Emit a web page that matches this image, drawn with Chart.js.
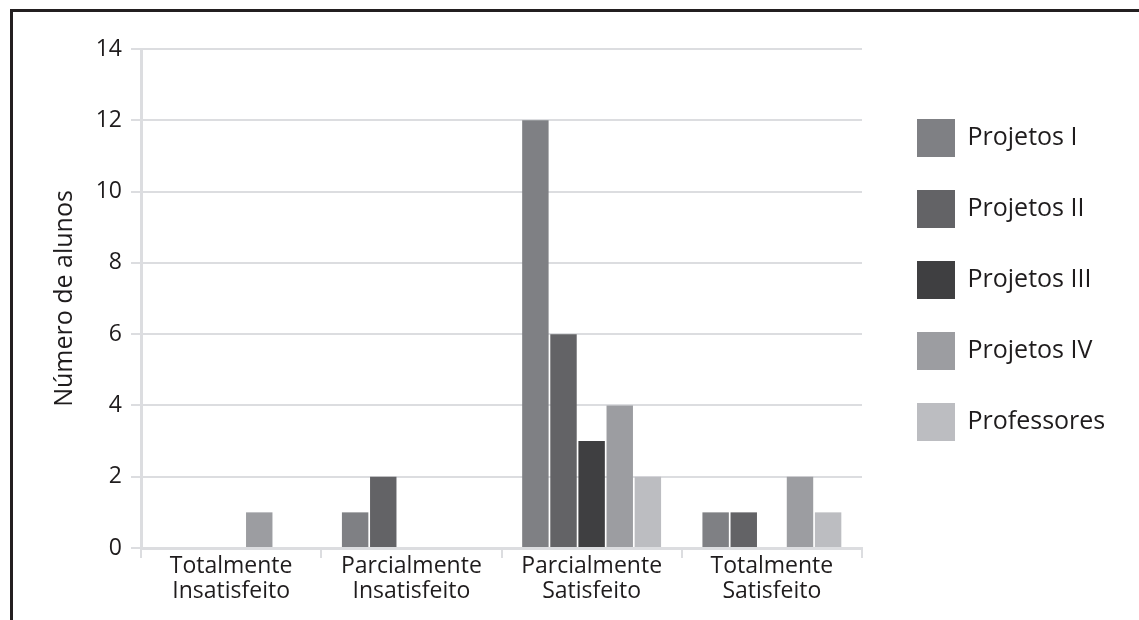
<!DOCTYPE html>
<html>
<head>
<meta charset="utf-8">
<script src="https://cdn.jsdelivr.net/npm/chart.js@4"></script>
<style>
  html, body { margin: 0; padding: 0; background: #fff; overflow: hidden; }
  #frame { position: absolute; left: 10px; top: 9px; width: 1200px; height: 700px;
           border-left: 3px solid #231f20; border-top: 3px solid #231f20; }
  #myChart { position: absolute; left: 0; top: 0; }
</style>
</head>
<body>
<div id="frame"></div>
<canvas id="myChart" width="1139" height="620"></canvas>
<script>
const categories = [
  ['Totalmente', 'Insatisfeito'],
  ['Parcialmente', 'Insatisfeito'],
  ['Parcialmente', 'Satisfeito'],
  ['Totalmente', 'Satisfeito']
];
const seriesNames = ['Projetos I', 'Projetos II', 'Projetos III', 'Projetos IV', 'Professores'];
const projetosI = [0, 1, 12, 1];
const projetosII = [0, 2, 6, 1];
const projetosIII = [0, 0, 3, 0];
const projetosIV = [1, 0, 4, 2];
const professores = [0, 0, 2, 1];
const yMin = 0, yMax = 14, yStep = 2;

const colors = ['#7f8084', '#636366', '#3f3f41', '#9c9da1', '#bcbdc1'];
const textColor = '#1f1c1d';
const gridColor = '#dcdde0';
const font = 'Open Sans';

const seriesValues = [projetosI, projetosII, projetosIII, projetosIV, professores];

// moves the legend block to the right of the plot
const legendPlace = {
  id: 'legendPlace',
  afterLayout(chart) {
    const lg = chart.legend;
    const pad = lg.options.labels.padding;
    lg.left = 917 - pad;
    lg.right = chart.width;
    lg.top = 119 - pad;
    lg.bottom = chart.height;
  }
};

const config = {
  type: 'bar',
  data: {
    labels: categories,
    datasets: seriesNames.map((name, i) => ({
      label: name,
      data: seriesValues[i],
      backgroundColor: colors[i],
      borderWidth: 0,
      barPercentage: 0.94,
      categoryPercentage: 0.78
    }))
  },
  options: {
    responsive: false,
    animation: false,
    devicePixelRatio: 1,
    events: [],
    layout: { padding: { top: 49, left: 0, right: 277, bottom: 0 } },
    plugins: {
      tooltip: { enabled: false },
      legend: {
        position: 'chartArea',
        align: 'start',
        labels: {
          boxWidth: 38,
          boxHeight: 38,
          padding: 33,
          color: textColor,
          font: { family: font, size: 25 }
        }
      }
    },
    scales: {
      x: {
        grid: { drawOnChartArea: false, color: gridColor, lineWidth: 2, tickLength: 10 },
        border: { display: true, color: gridColor, width: 3, z: 1 },
        ticks: { color: textColor, font: { family: font, size: 23, lineHeight: 1.1 }, padding: -4, maxRotation: 0 },
        afterFit(scale) { scale.height = 72; }
      },
      y: {
        min: yMin,
        max: yMax,
        grid: { color: gridColor, lineWidth: 2, tickLength: 10 },
        border: { display: true, color: gridColor, width: 3, z: 1 },
        ticks: { stepSize: yStep, color: textColor, font: { family: font, size: 23 }, padding: 9 },
        title: {
          display: true,
          text: 'Número de alunos',
          color: textColor,
          font: { family: font, size: 25 },
          padding: { top: 50, bottom: 0 }
        },
        afterFit(scale) { scale.width = 141; }
      }
    }
  },
  plugins: [legendPlace]
};

var myChart = new Chart(document.getElementById('myChart'), config);
</script>
</body>
</html>
